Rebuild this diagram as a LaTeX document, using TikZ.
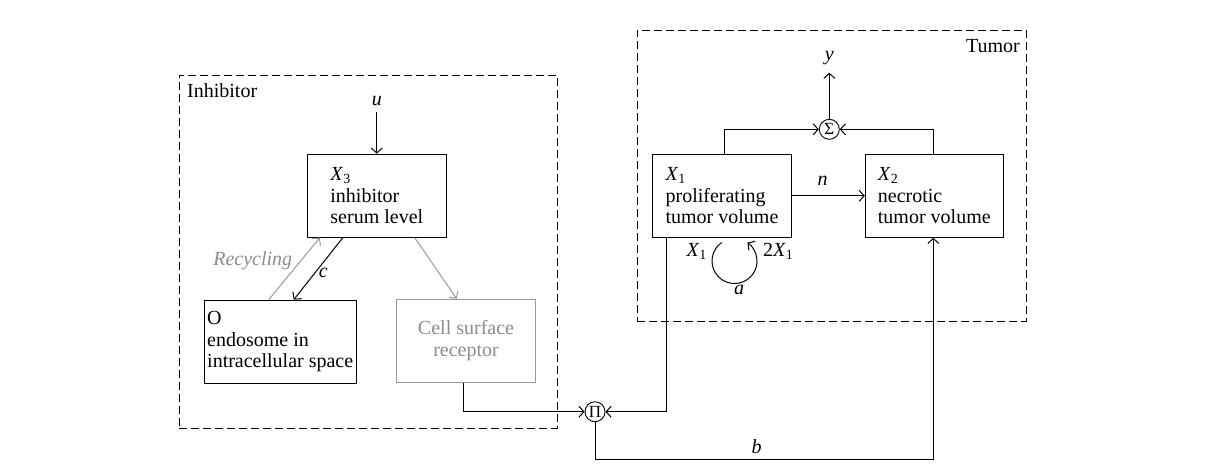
\documentclass[tikz,border=0pt]{standalone}
\usepackage{fontspec}
\setmainfont{Liberation Serif}
\usetikzlibrary{arrows.meta,calc}
\newcommand\mv[1]{\textit{#1}}
\begin{document}
\begin{tikzpicture}[x=1pt,y=-1pt,
 >={Straight Barb[length=5pt,width=11pt]},
 box/.style={draw,line width=1pt,inner sep=0pt,align=left,font=\fontsize{20}{21.5}\selectfont},
 gbox/.style={box,draw=black!40,text=black!45,align=center},
 frame/.style={draw,dash pattern=on 8pt off 4pt,line width=0.9pt,inner sep=0pt,anchor=north west},
 lbl/.style={font=\fontsize{20}{22}\selectfont,inner sep=0pt},
 sumnode/.style={circle,draw,line width=0.9pt,minimum size=20pt,inner sep=0pt,font=\fontsize{17}{17}\selectfont},
 conn/.style={line width=1pt},
 gconn/.style={line width=1pt,draw=black!40}
]
\path[use as bounding box] (0,0) rectangle (1206,475);
% frames
\node[frame,minimum width=378pt,minimum height=353pt] (inhb) at (179,75) {};
\node[frame,minimum width=389pt,minimum height=291pt] (tumb) at (637,30) {};
\node[lbl,anchor=west] (inhlab) at (187,91) {Inhibitor};
\node[lbl,anchor=east] (tumlab) at (1020,46) {Tumor};
% inhibitor part
\node[box,minimum width=139pt,minimum height=83pt] (x3) at (376.8,195.7) {\mv{X}\textsubscript{3}\\inhibitor\\serum level};
\node[lbl] (u) at (376.8,101) {\mv{u}};
\coordinate (ustart) at (376.8,112);
\draw[conn,->] (ustart) -- (x3.north);
\node[box,minimum width=152pt,minimum height=83pt] (o) at (280.2,341.7) {O\\endosome in\\intracellular space};
\node[gbox,minimum width=139pt,minimum height=83pt] (csr) at (466,340.8) {Cell surface\\receptor};
\draw[gconn,->] ([xshift=65pt]o.north west) -- ([xshift=13pt]x3.south west);
\draw[conn,->] ([xshift=36pt]x3.south west) -- ([xshift=90pt]o.north west);
\draw[gconn,->] ([xshift=108pt]x3.south west) -- ([xshift=-9.3pt]csr.north);
\node[lbl,text=black!45] (rec) at (252.7,261) {\mv{Recycling}};
\node[lbl] (c) at (323.3,273) {\mv{c}};
% product
\node[sumnode] (pi) at (595,411.7) {Π};
\draw[conn,->] ([xshift=-2.7pt]csr.south) |- (pi.west);
% tumor part
\node[box,minimum width=139.4pt,minimum height=83pt] (x1) at (722,195.8) {\mv{X}\textsubscript{1}\\proliferating\\tumor volume};
\node[box,minimum width=138pt,minimum height=83pt] (x2) at (934.3,195.8) {\mv{X}\textsubscript{2}\\necrotic\\tumor volume};
\draw[conn,->] (x1) -- (x2);
\node[lbl] (n) at (822.7,181) {\mv{n}};
\draw[conn,->] ([xshift=14.4pt]x1.south west) |- (pi.east);
\coordinate (bl) at (595,459.3);
\draw[conn,->] (pi.south) -- (bl) -| ([xshift=-1pt]x2.south);
\node[lbl] (b) at (756.7,447) {\mv{b}};
% sum
\node[sumnode] (sig) at (829.3,129.3) {Σ};
\draw[conn,->] ([xshift=2pt]x1.north) |- (sig.west);
\draw[conn,->] ([xshift=-1pt]x2.north) |- (sig.east);
\coordinate (yend) at (829.3,72.7);
\draw[conn,->] (sig) -- (yend);
\node[lbl] (y) at (829.3,58) {\mv{y}};
% loop
\coordinate (loopc) at (734.5,261);
\draw[conn,->] (loopc) ++(235:22.5) arc[start angle=235,end angle=-55,radius=22.5];
\node[lbl] (lx1) at (696.7,251.7) {\mv{X}\textsubscript{1}};
\node[lbl] (l2x1) at (778.3,251.7) {2\mv{X}\textsubscript{1}};
\node[lbl] (la) at (739,290) {\mv{a}};
\end{tikzpicture}
\end{document}
